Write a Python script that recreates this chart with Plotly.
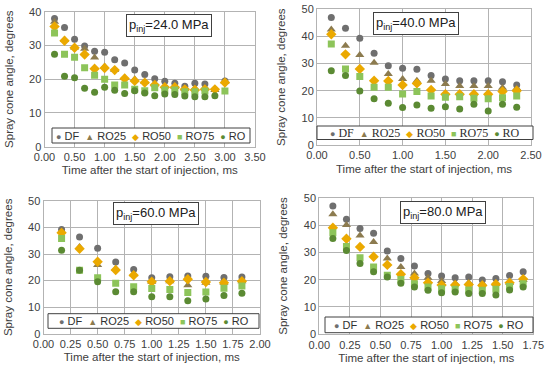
import plotly.graph_objects as go

# ---------------- data ----------------
series_names = ["DF", "RO25", "RO50", "RO75", "RO"]

t24 = [0.167, 0.333, 0.5, 0.667, 0.833, 1.0, 1.167, 1.333, 1.5, 1.667, 1.833, 2.0, 2.167, 2.333, 2.5, 2.667, 2.833, 3.0]
DF_24 = [38.0, 35.3, 31.8, 29.8, 28.3, 28.0, 25.8, 24.8, 22.7, 21.4, 20.1, 19.4, 18.8, 17.9, 18.8, 18.6, None, 19.5]
RO25_24 = [37.0, 31.7, 29.4, 29.0, 26.4, 23.8, 22.7, 20.4, 20.0, 19.2, 18.5, 18.0, 17.7, 17.2, 17.3, 17.3, 16.8, 19.2]
RO50_24 = [35.6, 31.4, 29.3, 27.3, 23.1, 23.3, 22.7, 20.2, 19.5, 19.0, 18.3, 17.6, 17.6, 17.0, 16.8, 17.0, 17.0, 19.0]
RO75_24 = [33.7, 27.4, 26.5, 23.4, 21.2, 20.0, 18.3, 18.3, 17.0, 16.6, 17.5, 16.8, 16.8, 16.3, 16.3, 16.5, None, 16.5]
RO_24 = [27.4, 20.9, 20.4, 17.3, 16.1, 17.6, 16.7, 15.8, 16.6, 15.9, 15.1, 15.6, 15.5, 15.0, 14.8, 14.8, 15.1, None]

t40 = [0.167, 0.333, 0.5, 0.667, 0.833, 1.0, 1.167, 1.333, 1.5, 1.667, 1.833, 2.0, 2.167, 2.333]
DF_40 = [47.0, 43.0, 39.3, 33.8, 29.2, 28.3, 27.9, 25.6, 24.3, 23.7, 23.7, 23.7, 23.3, 22.1]
RO25_40 = [42.6, 36.6, 33.2, 30.3, 26.2, 24.3, 23.7, 23.7, 22.5, 21.7, 21.7, 21.7, 21.1, 20.9]
RO50_40 = [40.8, 33.4, 28.0, 23.7, 23.6, 22.1, 22.7, 20.3, 18.7, 18.7, 18.7, 18.7, 19.7, 20.0]
RO75_40 = [37.2, 28.0, 25.2, 21.3, 21.3, 18.8, 19.7, 18.1, 17.6, 17.8, 17.2, 17.0, 17.4, 18.1]
RO_40 = [27.4, 25.6, 19.9, 17.0, 15.4, 13.8, 14.7, 13.5, 14.1, 13.3, 15.0, 12.5, 15.0, 13.9]

t60 = [0.167, 0.333, 0.5, 0.667, 0.833, 1.0, 1.167, 1.333, 1.5, 1.667, 1.833]
DF_60 = [39.3, 36.4, 32.2, 27.0, 24.2, 21.1, 21.5, 21.7, 21.6, 21.2, 21.4]
RO25_60 = [38.7, 32.7, 25.9, 24.5, 22.4, 19.6, 19.8, 18.3, 19.2, 19.2, 19.8]
RO50_60 = [38.0, 32.0, 27.1, 24.0, 22.0, 19.6, 19.8, 20.5, 19.5, 19.2, 19.8]
RO75_60 = [35.9, 23.9, 21.1, 19.0, 17.7, 17.0, 16.7, 15.5, 15.7, 17.1, 18.0]
RO_60 = [31.4, 23.9, 19.6, 15.8, 15.8, 13.9, 13.9, 12.4, 13.1, 14.4, 15.2]

t80 = [0.111, 0.222, 0.333, 0.444, 0.556, 0.667, 0.778, 0.889, 1.0, 1.111, 1.222, 1.333, 1.444, 1.556, 1.667]
DF_80 = [47.0, 42.1, 38.7, 37.0, 30.5, 27.7, 25.0, 22.3, 21.3, 20.7, 21.0, 19.9, 20.4, 21.5, 22.9]
RO25_80 = [43.9, 40.0, 36.2, 33.8, 27.7, 24.6, 22.3, 20.7, 19.5, 18.7, 18.9, 18.7, 18.5, 18.9, 19.9]
RO50_80 = [39.0, 35.0, 32.0, 28.4, 25.4, 22.0, 20.7, 18.9, 18.0, 18.0, 18.2, 17.9, 18.3, 18.9, 20.2]
RO75_80 = [37.2, 32.1, 28.0, 24.6, 21.6, 20.1, 18.5, 17.3, 16.7, 16.5, 16.2, 16.1, 16.5, 17.5, 18.5]
RO_80 = [35.1, 30.7, 25.9, 22.9, 21.0, 18.7, 17.3, 16.1, 15.2, 15.5, 14.9, 14.9, 14.4, 16.2, 17.3]

pressure_labels = ["24.0", "40.0", "60.0", "80.0"]
x_tick_vals = [
    [0, 0.5, 1.0, 1.5, 2.0, 2.5, 3.0, 3.5],
    [0, 0.5, 1.0, 1.5, 2.0, 2.5],
    [0, 0.25, 0.5, 0.75, 1.0, 1.25, 1.5, 1.75, 2.0],
    [0, 0.25, 0.5, 0.75, 1.0, 1.25, 1.5, 1.75],
]
y_max = [40, 50, 50, 50]

x_title = "Time after the start of injection, ms"
y_title = "Spray cone angle, degrees"

# ---------------- styling ----------------
colors = ["#6F6F6F", "#8C7B4F", "#EBA900", "#8DC45A", "#5B8A33"]
symbols = ["circle", "triangle-up", "diamond", "square", "circle"]
glyphs = ["\u25CF", "\u25B2", "\u25C6", "\u25A0", "\u25CF"]
msizes = [7, 8, 8, 7, 7]

panels = [
    (t24, [DF_24, RO25_24, RO50_24, RO75_24, RO_24]),
    (t40, [DF_40, RO25_40, RO50_40, RO75_40, RO_40]),
    (t60, [DF_60, RO25_60, RO50_60, RO75_60, RO_60]),
    (t80, [DF_80, RO25_80, RO50_80, RO75_80, RO_80]),
]

W, H = 550, 373
# plot-area pixel boxes (left, right, top, bottom)
boxes = [
    (44.5, 255.0, 11.7, 146.7),
    (317.0, 531.0, 9.3, 145.0),
    (43.5, 260.0, 201.0, 333.7),
    (319.3, 533.3, 197.7, 334.3),
]
# legend boxes (left, right, top, bottom) in px
leg_box = [(52, 250, 128, 143), (317, 533, 126, 139.5), (48, 259, 313.7, 328.3), (325, 533, 317, 332.7)]
ann_pos = [(169, 25), (416, 23.3), (156, 213.7), (443, 212.7)]

grid = "#B3B3B3"
sans = "Liberation Sans, Arial"
tickfont = dict(family=sans, size=11, color="#404040")
titlefont = dict(family=sans, size=11.5, color="#404040")

fig = go.Figure()
layout = dict(
    width=W, height=H,
    margin=dict(l=0, r=0, t=0, b=0),
    paper_bgcolor="white", plot_bgcolor="white",
    showlegend=False,
    annotations=[], shapes=[],
)

NB = "\u00a0"
for i, (tt, ys) in enumerate(panels):
    n = i + 1
    xa = "x" if n == 1 else f"x{n}"
    ya = "y" if n == 1 else f"y{n}"
    for k in range(5):
        fig.add_trace(go.Scatter(
            x=tt, y=ys[k], mode="markers", name=series_names[k],
            marker=dict(symbol=symbols[k], size=msizes[k], color=colors[k], line=dict(width=0)),
            xaxis=xa, yaxis=ya,
        ))
    l, r, t, b = boxes[i]
    xkey = "xaxis" if n == 1 else f"xaxis{n}"
    ykey = "yaxis" if n == 1 else f"yaxis{n}"
    layout[xkey] = dict(
        domain=[l / W, r / W], anchor=ya,
        range=[x_tick_vals[i][0], x_tick_vals[i][-1]],
        tickmode="array", tickvals=x_tick_vals[i],
        ticktext=[f"{v:.2f}" for v in x_tick_vals[i]],
        showgrid=True, gridcolor=grid, gridwidth=1,
        showline=True, linecolor=grid, mirror=True,
        zeroline=False, ticks="", tickfont=tickfont, automargin=False,
        title=dict(text=x_title, font=titlefont, standoff=4),
    )
    layout[ykey] = dict(
        domain=[1 - b / H, 1 - t / H], anchor=xa,
        range=[0, y_max[i]], tickmode="linear", tick0=0, dtick=10,
        showgrid=True, gridcolor=grid, gridwidth=1,
        showline=True, linecolor=grid, mirror=True,
        zeroline=False, ticks="", tickfont=tickfont, automargin=False,
        title=dict(text=y_title, font=titlefont, standoff=13),
    )
    # legend drawn as a bordered box with coloured symbol glyphs
    lfam = "Liberation Serif, Times New Roman" if n == 2 else sans
    parts = []
    for k in range(5):
        parts.append(f'<span style="color:{colors[k]};font-size:9px">{glyphs[k]}</span>{NB}{series_names[k]}')
    legend_text = (NB * 2).join(parts)
    bl, br, bt, bb = leg_box[i]
    layout["shapes"].append(dict(
        type="rect", xref="paper", yref="paper",
        x0=bl / W, x1=br / W, y0=1 - bb / H, y1=1 - bt / H,
        line=dict(color="#404040", width=1), fillcolor="white", layer="above",
    ))
    layout["annotations"].append(dict(
        x=(bl + br) / 2 / W, y=1 - (bt + bb) / 2 / H, xref="paper", yref="paper",
        xanchor="center", yanchor="middle",
        text=legend_text, showarrow=False,
        font=dict(family=lfam, size=11 if n != 2 else 12, color="#303030"),
    ))
    ax, ay = ann_pos[i]
    layout["annotations"].append(dict(
        x=ax / W, y=1 - ay / H, xref="paper", yref="paper",
        xanchor="center", yanchor="middle",
        text=f"p<sub>inj</sub>={pressure_labels[i]} MPa", showarrow=False,
        font=dict(family=sans, size=13, color="#202020"),
        bordercolor="#404040", borderwidth=1, borderpad=2, bgcolor="white",
    ))

fig.update_layout(**layout)
fig.write_html("out.html", config={"displayModeBar": False},
               post_script="document.body.style.margin='0';document.body.style.padding='0';")
